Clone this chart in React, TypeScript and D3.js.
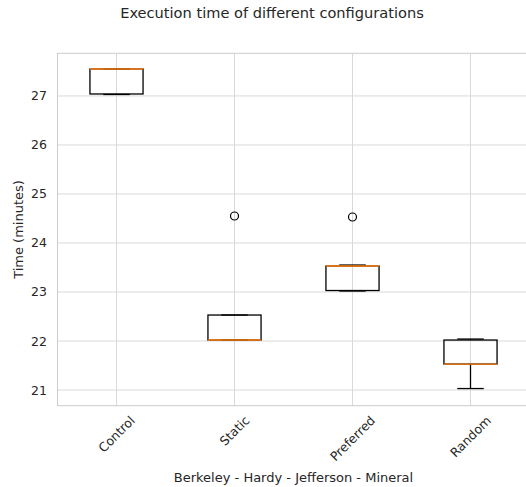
import React, { useEffect, useRef } from "react";
import * as d3 from "d3";

const W = 526, H = 487;
const CATEGORIES = ["Control", "Static", "Preferred", "Random"];
// whisker low, q1, median, q3, whisker high
const WHISK_LO = [27.03, 22.02, 23.02, 21.03];
const Q1 = [27.04, 22.02, 23.03, 21.53];
const MEDIAN = [27.55, 22.02, 23.53, 21.53];
const Q3 = [27.55, 22.53, 23.53, 22.02];
const WHISK_HI = [27.55, 22.53, 23.55, 22.04];
const OUTLIERS = [[], [24.55], [24.53], []];
const Y_TICKS = [21, 22, 23, 24, 25, 26, 27];

const M = { left: 57.5, right: 529.5, top: 53.3, bottom: 405.7 };
const TXT = "#262626";
const GRID = "#d9d9d9";
const FONT = "DejaVu Sans";

export default function App() {
  const svgRef = useRef<SVGSVGElement>(null);

  useEffect(() => {
    document.body.style.margin = "0";
    const svg = d3.select(svgRef.current);
    svg.selectAll("*").remove();

    const x = d3.scaleLinear().domain([0.5, 4.5]).range([M.left, M.right]);
    const y = d3.scaleLinear().domain([20.68, 27.87]).range([M.bottom, M.top]);
    const boxW = x(0.45) - x(0);

    const g = svg.append("g");

    // grid
    g.selectAll("line.hg").data(Y_TICKS).enter().append("line")
      .attr("x1", M.left).attr("x2", M.right)
      .attr("y1", d => y(d)).attr("y2", d => y(d))
      .attr("stroke", GRID).attr("stroke-width", 1);
    g.selectAll("line.vg").data(CATEGORIES).enter().append("line")
      .attr("x1", (_, i) => x(i + 1)).attr("x2", (_, i) => x(i + 1))
      .attr("y1", M.top).attr("y2", M.bottom)
      .attr("stroke", GRID).attr("stroke-width", 1);
    // spines
    g.append("rect").attr("x", M.left).attr("y", M.top)
      .attr("width", M.right - M.left).attr("height", M.bottom - M.top)
      .attr("fill", "none").attr("stroke", "#cccccc").attr("stroke-width", 1);

    // y tick labels
    g.selectAll("text.yt").data(Y_TICKS).enter().append("text")
      .attr("x", M.left - 10.5).attr("y", d => y(d))
      .attr("text-anchor", "end").attr("dominant-baseline", "central")
      .attr("font-family", FONT).attr("font-size", 12.5).attr("fill", TXT)
      .text(d => d);

    // boxes
    const lw = 1.3;
    CATEGORIES.forEach((_, i) => {
      const cx = x(i + 1);
      const bg = g.append("g");
      // whiskers
      bg.append("line").attr("x1", cx).attr("x2", cx)
        .attr("y1", y(Q1[i])).attr("y2", y(WHISK_LO[i]))
        .attr("stroke", "#000").attr("stroke-width", lw);
      bg.append("line").attr("x1", cx).attr("x2", cx)
        .attr("y1", y(Q3[i])).attr("y2", y(WHISK_HI[i]))
        .attr("stroke", "#000").attr("stroke-width", lw);
      // caps
      [WHISK_LO[i], WHISK_HI[i]].forEach(v => {
        bg.append("line").attr("x1", cx - boxW / 4).attr("x2", cx + boxW / 4)
          .attr("y1", y(v)).attr("y2", y(v))
          .attr("stroke", "#000").attr("stroke-width", lw);
      });
      // box
      bg.append("rect").attr("x", cx - boxW / 2).attr("y", y(Q3[i]))
        .attr("width", boxW).attr("height", Math.max(0, y(Q1[i]) - y(Q3[i])))
        .attr("fill", "none").attr("stroke", "#000").attr("stroke-width", lw);
      // median
      bg.append("line").attr("x1", cx - boxW / 2).attr("x2", cx + boxW / 2)
        .attr("y1", y(MEDIAN[i])).attr("y2", y(MEDIAN[i]))
        .attr("stroke", "#ff7f0e").attr("stroke-width", lw);
      // fliers
      bg.selectAll("circle").data(OUTLIERS[i]).enter().append("circle")
        .attr("cx", cx).attr("cy", d => y(d)).attr("r", 4)
        .attr("fill", "none").attr("stroke", "#000").attr("stroke-width", 1.2);
    });

    // x tick labels, rotated 45, bbox centered under tick
    const fs = 12.5;
    CATEGORIES.forEach((c, i) => {
      const t = g.append("text")
        .attr("text-anchor", "middle").attr("dominant-baseline", "central")
        .attr("font-family", FONT).attr("font-size", fs).attr("fill", TXT)
        .text(c);
      const w = (t.node() as SVGTextElement).getComputedTextLength();
      const h = fs * 1.0;
      const cy = M.bottom + 8 + (w + h) * Math.SQRT1_2 / 2;
      t.attr("transform", `translate(${x(i + 1)},${cy}) rotate(-45)`);
    });

    // axis labels
    g.append("text").attr("x", (M.left + M.right) / 2).attr("y", 481.7)
      .attr("text-anchor", "middle").attr("font-family", FONT).attr("font-size", 13)
      .attr("fill", TXT).text("Berkeley - Hardy - Jefferson - Mineral");
    g.append("text")
      .attr("transform", `translate(23,${(M.top + M.bottom) / 2}) rotate(-90)`)
      .attr("text-anchor", "middle").attr("font-family", FONT).attr("font-size", 13)
      .attr("fill", TXT).text("Time (minutes)");

    // title
    g.append("text").attr("x", 272).attr("y", 18.3)
      .attr("text-anchor", "middle").attr("font-family", FONT).attr("font-size", 14.6)
      .attr("fill", TXT).text("Execution time of different configurations");
  }, []);

  return <svg ref={svgRef} width={W} height={H} style={{ display: "block", background: "#fff" }} />;
}
